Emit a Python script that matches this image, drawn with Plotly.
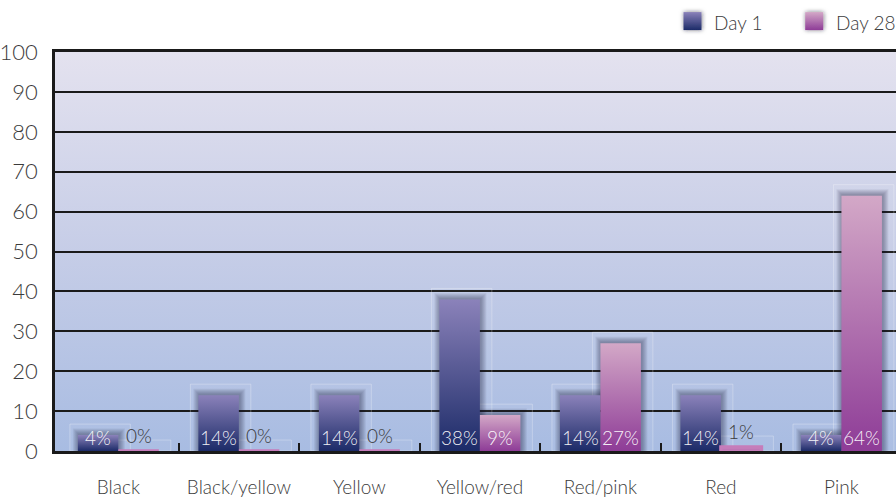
import base64
import plotly.graph_objects as go

# ---- data -------------------------------------------------------------
categories = ["Black", "Black/yellow", "Yellow", "Yellow/red", "Red/pink", "Red", "Pink"]
day1 = [4, 14, 14, 38, 14, 14, 4]
day28 = [0, 0, 0, 9, 27, 1, 64]
y_ticks = [0, 10, 20, 30, 40, 50, 60, 70, 80, 90, 100]

# ---- styling ----------------------------------------------------------
W, H = 896, 498
M_L, M_R, M_T, M_B = 53, 0, 52, 46
PLOT_W = W - M_L - M_R
PLOT_H = H - M_T - M_B
X_RANGE = [-0.5257, 6.4528]
Y_RANGE = [0, 100]
PX_X = PLOT_W / (X_RANGE[1] - X_RANGE[0])   # pixels per category unit
PX_Y = PLOT_H / (Y_RANGE[1] - Y_RANGE[0])   # pixels per percent

BAR_W = 0.336
SERIES = [
    dict(name="Day 1", values=day1, offset=-1, top="#8b82ba", bottom="#1c2b68",
         strip="#3a4682"),
    dict(name="Day 28", values=day28, offset=0, top="#d3a8c7", bottom="#8e3c97",
         strip="#c67cba"),
]
FONT = "Lato, Liberation Sans, sans-serif"
TEXT_DARK = "#3b3b3b"


def svg_uri(svg):
    return "data:image/svg+xml;base64," + base64.b64encode(svg.encode()).decode()


def rect(x0, x1, y0, y1):
    return [x0, x1, x1, x0, x0], [y0, y0, y1, y1, y0]


def px_to_paper(px, py):
    return (px - M_L) / PLOT_W, (M_T + PLOT_H - py) / PLOT_H


fig = go.Figure()

# faint glass panels behind each bar
for s in SERIES:
    for i, v in enumerate(s["values"]):
        x0 = i + s["offset"] * BAR_W
        xs, ys = rect(x0 - 8 / PX_X, x0 + BAR_W + 12 / PX_X, 0, v + 11 / PX_Y)
        fig.add_trace(go.Scatter(
            x=xs, y=ys, mode="lines", fill="toself",
            fillcolor="rgba(255,255,255,0.04)",
            line=dict(color="rgba(255,255,255,0.28)", width=1),
            hoverinfo="skip", showlegend=False))

# soft drop shadows (stacked translucent layers fading outwards)
for s in SERIES:
    for i, v in enumerate(s["values"]):
        if v < 2:
            continue
        x0 = i + s["offset"] * BAR_W
        for k in (6, 5, 4, 3, 2, 1):
            xs, ys = rect(x0 - (k - 1) / PX_X, x0 + BAR_W + (k + 0.5) / PX_X,
                          0, v + (k + 0.5) / PX_Y)
            fig.add_trace(go.Scatter(
                x=xs, y=ys, mode="lines", fill="toself",
                fillcolor="rgba(20,20,40,0.065)", line=dict(width=0),
                hoverinfo="skip", showlegend=False))

# gradient bars
for s in SERIES:
    for i, v in enumerate(s["values"]):
        x0 = i + s["offset"] * BAR_W
        xs, ys = rect(x0, x0 + BAR_W, 0, v)
        thin = v < 2
        fig.add_trace(go.Scatter(
            x=xs, y=ys, mode="lines", fill="toself",
            fillgradient=dict(type="vertical",
                              colorscale=[[0, s["bottom"]], [1, s["top"]]]),
            line=dict(color=s["strip"], width=3.5 if thin else 0),
            name=s["name"],
            hovertemplate=f"{categories[i]}<br>{s['name']}: {v}%<extra></extra>",
            showlegend=False))

# value labels
annotations = []
for s in SERIES:
    for i, v in enumerate(s["values"]):
        xc = i + s["offset"] * BAR_W + BAR_W / 2
        inside = v >= 3
        annotations.append(dict(
            x=xc, y=0 if inside else v, xref="x", yref="y",
            text=f"{v}%", showarrow=False, yanchor="bottom", xanchor="center",
            yshift=0 if inside else 2,
            font=dict(family=FONT, size=19, weight=300,
                      color="rgba(255,255,255,0.93)" if inside else TEXT_DARK)))

# plot-area background gradient
images = [dict(
    source=svg_uri(
        '<svg xmlns="http://www.w3.org/2000/svg" width="10" height="100" '
        'preserveAspectRatio="none"><defs><linearGradient id="g" x1="0" y1="0" '
        'x2="0" y2="1"><stop offset="0" stop-color="#e4e2ef"/>'
        '<stop offset="0.5" stop-color="#c6cde7"/>'
        '<stop offset="1" stop-color="#a8bce2"/></linearGradient></defs>'
        '<rect width="10" height="100" fill="url(#g)"/></svg>'),
    xref="paper", yref="paper", x=0, y=1, sizex=1, sizey=1,
    sizing="stretch", layer="below", xanchor="left", yanchor="top")]


def swatch(top, bottom):
    return svg_uri(
        '<svg xmlns="http://www.w3.org/2000/svg" width="30" height="30">'
        '<defs><linearGradient id="s" x1="0" y1="0" x2="0" y2="1">'
        f'<stop offset="0" stop-color="{top}"/><stop offset="1" stop-color="{bottom}"/>'
        '</linearGradient><filter id="f" x="-50%" y="-50%" width="200%" height="200%">'
        '<feDropShadow dx="0.5" dy="0" stdDeviation="2" flood-color="#1a1a2a" '
        'flood-opacity="0.6"/></filter></defs>'
        '<rect x="6" y="6" width="18" height="18" fill="url(#s)" filter="url(#f)"/></svg>')


# legend: gradient swatches + text, top-right above the plot
legend_items = [("Day 1", 683, 712), ("Day 28", 805, 834)]
for s, (label, sx, tx) in zip(SERIES, legend_items):
    ix, iy = px_to_paper(sx - 6, 12 - 6)
    images.append(dict(
        source=swatch(s["top"], s["bottom"]), xref="paper", yref="paper",
        x=ix, y=iy, sizex=30 / PLOT_W, sizey=30 / PLOT_H, sizing="stretch",
        xanchor="left", yanchor="top", layer="above"))
    ax, ay = px_to_paper(tx, 22)
    annotations.append(dict(
        x=ax, y=ay, xref="paper", yref="paper", text=label, showarrow=False,
        xanchor="left", yanchor="middle",
        font=dict(family=FONT, size=19, weight=300, color=TEXT_DARK)))

fig.update_layout(
    width=W, height=H,
    margin=dict(l=M_L, r=M_R, t=M_T, b=M_B, pad=0),
    paper_bgcolor="white",
    plot_bgcolor="rgba(0,0,0,0)",
    showlegend=False,
    images=images,
    annotations=annotations,
    xaxis=dict(
        range=X_RANGE, tickmode="array", tickvals=list(range(len(categories))),
        ticktext=categories, ticks="", showgrid=False, zeroline=False,
        showline=True, mirror=True, linecolor="#1a1a1a", linewidth=2.5,
        ticklabelstandoff=17,
        tickfont=dict(family=FONT, size=19, weight=300, color=TEXT_DARK),
        minor=dict(tickmode="array",
                   tickvals=[i + 0.5 for i in range(len(categories) - 1)],
                   ticks="inside", ticklen=8, tickwidth=2, tickcolor="#1a1a1a",
                   showgrid=False),
    ),
    yaxis=dict(
        range=Y_RANGE, tickmode="array", tickvals=y_ticks, ticks="",
        showgrid=True, gridcolor="#1a1a1a", gridwidth=2, zeroline=False,
        showline=True, linecolor="#1a1a1a", linewidth=2.5,
        ticklabelstandoff=10,
        tickfont=dict(family=FONT, size=22, weight=300, color=TEXT_DARK),
    ),
)

fig.write_html("out.html", config={"displayModeBar": False})
